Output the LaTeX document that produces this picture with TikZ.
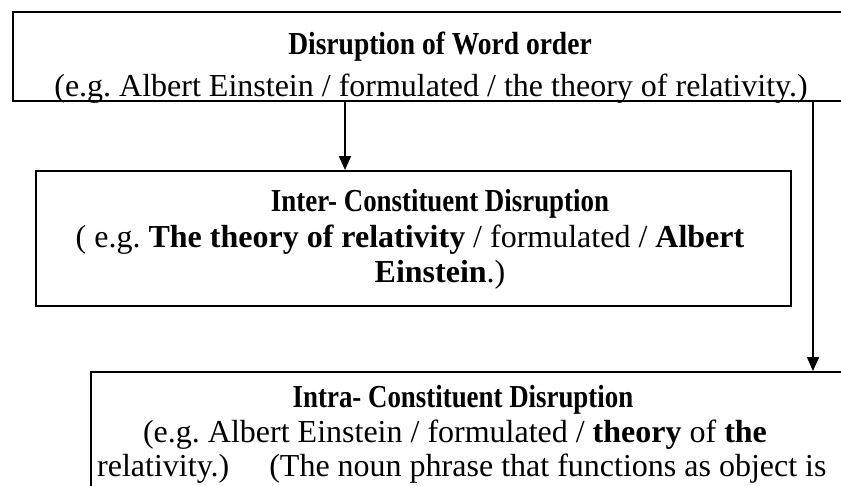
\documentclass[tikz,border=0pt]{standalone}
\usepackage{fontspec}
\setmainfont{Liberation Serif}
\usetikzlibrary{arrows.meta, positioning}
\frenchspacing

\begin{document}
\begin{tikzpicture}[
    x=1pt, y=-1pt,
    box/.style={draw, line width=2pt, anchor=north west, inner sep=0pt},
    txt/.style={anchor=base, inner sep=0pt, font=\fontsize{32}{35}\selectfont},
    head/.style={txt, font=\fontsize{32}{35}\selectfont\bfseries},
    arrow/.style={-{Triangle[length=14pt, width=12pt]}, line width=2pt},
]
    \useasboundingbox (0,0) rectangle (841,485);
    \clip (0,0) rectangle (841,485);

    \node[box, minimum width=870pt, minimum height=89pt] (wordorder) at (12,11) {};
    \node[box, minimum width=755pt, minimum height=135pt] (inter) at (35,170) {};
    \node[box, minimum width=800pt, minimum height=200pt] (intra) at (90,371) {};

    % top box, text cut by the frame
    \begin{scope}
        \clip (wordorder.north west) rectangle (wordorder.south east);
        \node[head] (wordorder-title) at (440,54) {\scalebox{0.86}[1]{Disruption of Word order}};
        \node[txt] (wordorder-ex) at (431,96) {(e.g. Albert Einstein / formulated / the theory of relativity.)};
    \end{scope}

    % middle box
    \node[head] (inter-title) at (440,211) {\scalebox{0.84}[1]{Inter- Constituent Disruption}};
    \node[txt] (inter-ex) at (410,247) {( e.g. \textbf{The theory of relativity} / formulated / \textbf{Albert}};
    \node[txt] (inter-ex2) at (440,282) {\textbf{Einstein}.)};

    % bottom box
    \node[head] (intra-title) at (463,407) {\scalebox{0.84}[1]{Intra- Constituent Disruption}};
    \node[txt] (intra-ex) at (455,442) {(e.g. Albert Einstein / formulated / \textbf{theory} of \textbf{the}};
    \node[txt, anchor=base west] (intra-ex2) at (97,476) {relativity.)\quad\ (The noun phrase that functions as object is};

    \draw[arrow] (wordorder.south -| 345,0) -- (inter.north -| 345,0);
    \draw[arrow] (wordorder.south -| 813,0) -- (intra.north -| 813,0);
\end{tikzpicture}
\end{document}
